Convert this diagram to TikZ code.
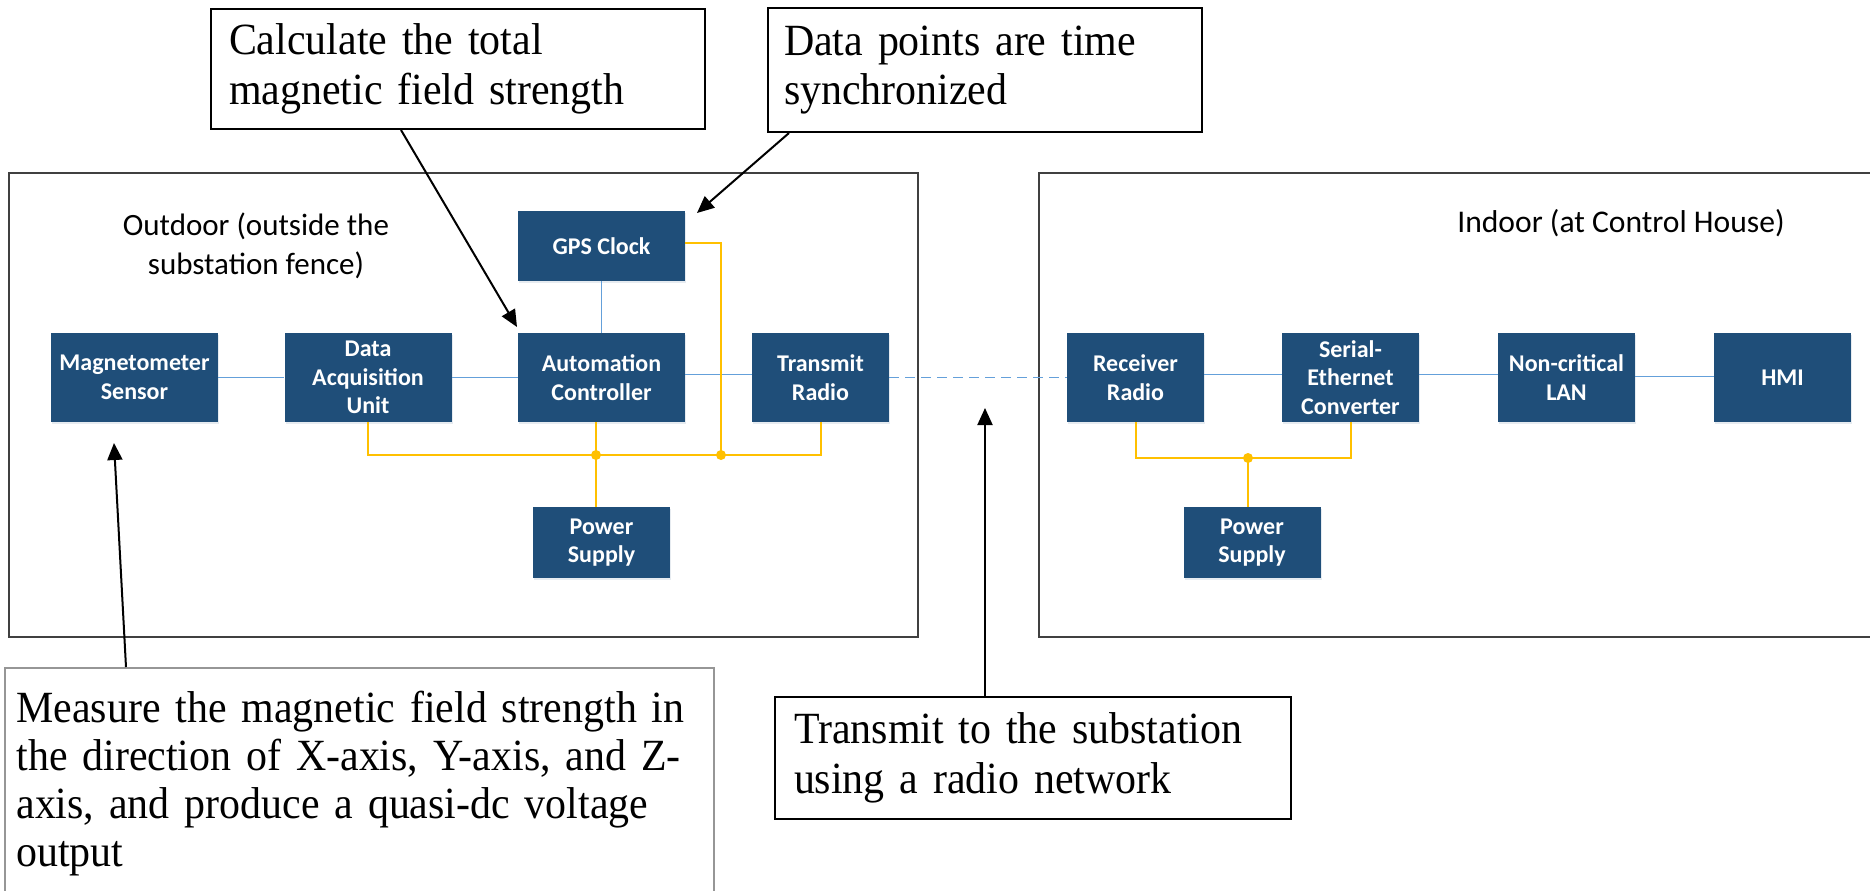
\documentclass[tikz,border=0pt]{standalone}
\usepackage{fontspec}
\setmainfont{Liberation Serif}[FakeStretch=0.94]
\newfontfamily\carlito{Carlito}
\usetikzlibrary{arrows.meta,calc,shadows}
\definecolor{nodeblue}{RGB}{31,78,121}
\definecolor{lineblue}{RGB}{100,160,218}
\definecolor{lineyellow}{RGB}{255,192,0}
\definecolor{framegray}{RGB}{64,64,64}
\definecolor{lightframe}{RGB}{150,150,150}
\tikzset{
  blk/.style={fill=nodeblue, text=white, font=\carlito\bfseries\fontsize{12}{14.3}\selectfont,
    align=center, inner sep=0pt, minimum height=44.5pt,
    drop shadow={shadow xshift=0.6pt, shadow yshift=-0.8pt, opacity=0.18, fill=nodeblue!60}},
  wideblk/.style={blk, minimum width=83.5pt},
  narrowblk/.style={blk, minimum width=68.5pt},
  frame/.style={draw=framegray, line width=0.7pt},
  callout/.style={draw=black, line width=1pt, font=\fontsize{22.3}{24.8}\selectfont,
    align=left, anchor=north west, inner ysep=0pt},
  lbl/.style={font=\carlito\fontsize{15.5}{19.5}\selectfont, align=center, inner sep=0pt},
  bl/.style={draw=lineblue, line width=0.75pt},
  yl/.style={draw=lineyellow, line width=1pt},
  arr/.style={draw=black, line width=1pt, -{Triangle[length=8.5pt,width=7.5pt]}},
  jdot/.style={circle, fill=lineyellow, inner sep=0pt, minimum size=5pt}
}
\begin{document}
\begin{tikzpicture}[x=0.5pt,y=-0.5pt]
\useasboundingbox (0,0) rectangle (1870,890);
\fill[white] (0,0) rectangle (1870,890);
\clip (0,0) rectangle (1870,890);

% region frames
\draw[frame] (9,173) rectangle (918,637);
\draw[frame] (1039,173) rectangle (1880,637);
\node[lbl] (outlbl) at (256,246) {Outdoor (outside the\\substation fence)};
\node[lbl, font=\carlito\fontsize{15.8}{19.5}\selectfont] (inlbl) at (1621,223) {Indoor (at Control House)};

% outdoor blocks
\node[wideblk] (mag) at (134.5,377.5) {Magnetometer\\Sensor};
\node[wideblk] (daq) at (368,377.5) {Data\\Acquisition\\Unit};
\node[wideblk] (ac) at (601.5,377.5) {Automation\\Controller};
\node[narrowblk] (tr) at (820.5,377.5) {Transmit\\Radio};
\node[wideblk, minimum height=35pt] (gps) at (601.5,246) {GPS Clock};
\node[narrowblk, minimum height=35.5pt] (ps1) at (601.5,542.5) {Power\\Supply};

% indoor blocks
\node[narrowblk] (rr) at (1135.5,377.5) {Receiver\\Radio};
\node[narrowblk] (sec) at (1350.5,377.5) {Serial-\\Ethernet\\Converter};
\node[narrowblk] (lan) at (1566.5,377.5) {Non-critical\\LAN};
\node[narrowblk] (hmi) at (1782.5,377.5) {HMI};
\node[narrowblk, minimum height=35.5pt] (ps2) at (1252,542.5) {Power\\Supply};

% blue data connectors
\draw[bl] (mag) -- (daq);
\draw[bl] (daq) -- (ac);
\draw[bl] ([yshift=1.5pt]ac.east) -- ([yshift=1.5pt]tr.west);
\draw[bl] (gps) -- (ac);
\draw[bl, dash pattern=on 5pt off 3pt] (tr) -- (rr);
\draw[bl] ([yshift=1.5pt]rr.east) -- ([yshift=1.5pt]sec.west);
\draw[bl] ([yshift=1.5pt]sec.east) -- ([yshift=1.5pt]lan.west);
\draw[bl] ([yshift=0.5pt]lan.east) -- ([yshift=0.5pt]hmi.west);

% yellow power connectors (outdoor)
\coordinate (j1) at (596,455);
\coordinate (j2) at (721,455);
\draw[yl] (daq.south) |- (j1) -- (j2) -| (tr.south);
\draw[yl] ([xshift=-2.75pt]ac.south) -- ([xshift=-2.75pt]ps1.north);
\draw[yl] ([yshift=1.5pt]gps.east) -| (j2);
\node[jdot] at (j1) {};
\node[jdot] at (j2) {};

% yellow power connectors (indoor)
\coordinate (j3) at (1248,458);
\draw[yl] (rr.south) |- (j3) -| (sec.south);
\draw[yl] (j3) -- (j3 |- ps2.north);
\node[jdot] at (j3) {};

% callouts
\node[callout, inner xsep=9pt, text width=229pt, minimum height=60pt] (calc) at (210,8)
  {Calculate the total\\magnetic field strength};
\node[callout, inner xsep=8pt, text width=201pt, minimum height=62pt] (dp) at (767,7)
  {Data points are time\\synchronized};
\node[callout, inner xsep=9.5pt, text width=239pt, minimum height=61pt] (tx) at (774,696)
  {Transmit to the substation\\using a radio network};
\node[draw=lightframe, line width=1pt, anchor=north west, inner sep=0pt,
  minimum width=354.5pt, minimum height=130pt] (meas) at (4,667) {};
\node[anchor=north west, inner sep=0pt, text width=345pt, align=left,
  font=\fontsize{22.3}{24}\selectfont] (meastext) at (16,691)
  {Measure the magnetic field strength in\\the direction of X-axis, Y-axis, and Z-\\axis, and produce a quasi-dc voltage\\output};

% callout arrows
\coordinate (tipcalc) at (517,327);
\coordinate (tipdp) at (697,213);
\coordinate (tipmeas) at (114,443);
\coordinate (tiptx) at (985,408);
\draw[arr] ($(calc.south west)+(191,0)$) -- (tipcalc);
\draw[arr] ($(dp.south west)+(22,0)$) -- (tipdp);
\draw[arr] ($(meas.north west)+(122,0)$) -- (tipmeas);
\draw[arr] ($(tx.north west)+(211,0)$) -- (tiptx);
\end{tikzpicture}
\end{document}
